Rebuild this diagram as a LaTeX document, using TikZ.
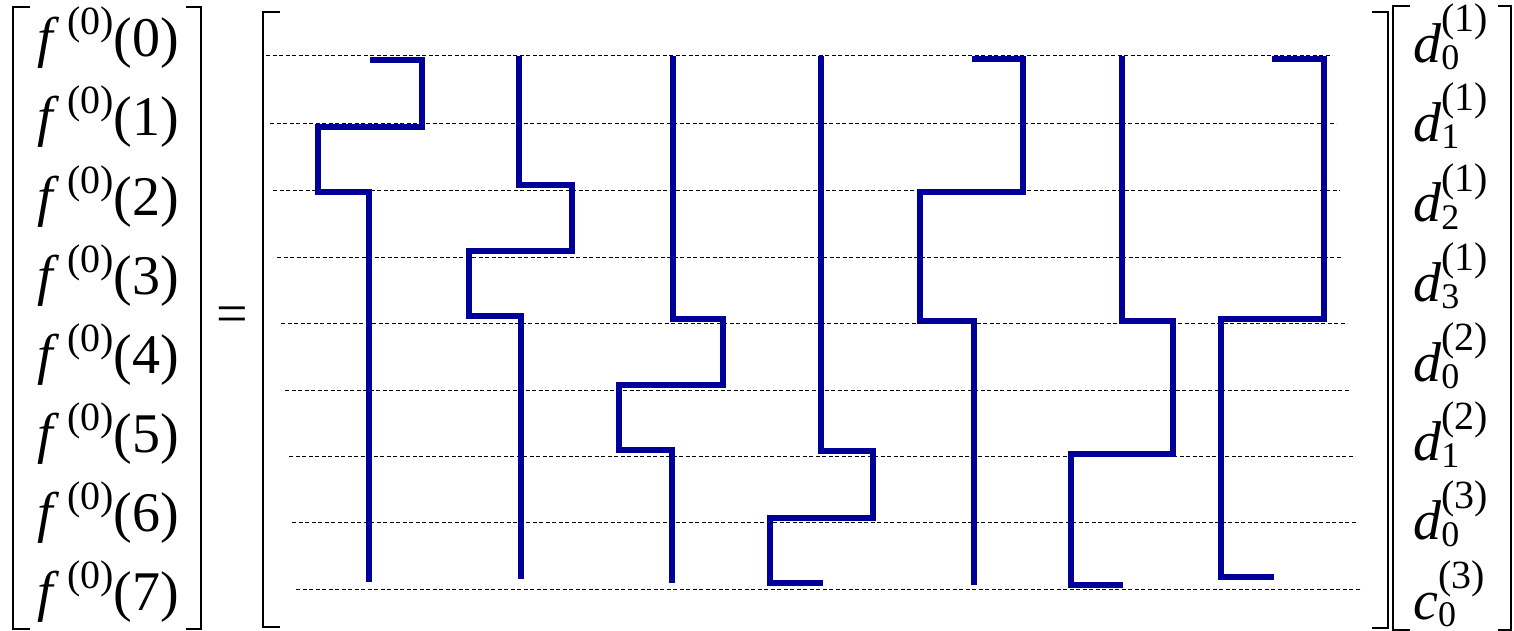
\documentclass[tikz,border=0pt]{standalone}
\usepackage{fontspec}
\setmainfont{Liberation Serif}

\definecolor{haarblue}{RGB}{0,0,153}
\newcommand{\supsz}{\fontsize{40}{44}\selectfont}
\newcommand{\subsz}{\fontsize{36}{40}\selectfont}
\newcommand{\fval}[1]{\textit{f}\kern8pt\raisebox{22pt}{\supsz(0)}(#1)}
\newcommand{\coef}[3]{\textit{#1}\rlap{\raisebox{-7pt}{\subsz #2}}\raisebox{31pt}{\supsz(#3)}}

\begin{document}
\begin{tikzpicture}[x=1pt, y=-1pt,
  entry/.style={font=\fontsize{56}{60}\selectfont, inner sep=0pt},
  gridline/.style={line width=1pt, dash pattern=on 4pt off 2.5pt},
  bracket/.style={line width=2.5pt, line join=miter},
  haar/.style={haarblue, line width=6.5pt, line join=miter}]

\useasboundingbox (0,0) rectangle (1514,631);

% left vector
\draw[bracket] (30,7) -- (13,7) -- (13,629) -- (30,629);
\draw[bracket] (186,7) -- (201,7) -- (201,629) -- (186,629);

\node[entry, anchor=base west] (f0) at (37,57) {\fval{0}};
\node[entry, anchor=base west] (f1) at (37,136) {\fval{1}};
\node[entry, anchor=base west] (f2) at (37,215) {\fval{2}};
\node[entry, anchor=base west] (f3) at (37,294) {\fval{3}};
\node[entry, anchor=base west] (f4) at (37,373) {\fval{4}};
\node[entry, anchor=base west] (f5) at (37,452) {\fval{5}};
\node[entry, anchor=base west] (f6) at (37,531) {\fval{6}};
\node[entry, anchor=base west] (f7) at (37,610) {\fval{7}};

\node[entry] (eq) at (232,320) {=};

% matrix
\draw[bracket] (280,12) -- (263,12) -- (263,627) -- (280,627);
\draw[bracket] (1372,12) -- (1388,12) -- (1388,628) -- (1372,628);

\draw[gridline] (266,56) -- (1332,56);
\draw[gridline] (270,124) -- (1336,124);
\draw[gridline] (273,190.5) -- (1340,190.5);
\draw[gridline] (277,257) -- (1343,257);
\draw[gridline] (281,323.5) -- (1347,323.5);
\draw[gridline] (285,390) -- (1351,390);
\draw[gridline] (289,456) -- (1355,456);
\draw[gridline] (292,522.5) -- (1358,522.5);
\draw[gridline] (296,589) -- (1362,589);

\draw[haar] (370,60) -- (422,60) -- (422,127) -- (318,127) -- (318,192) -- (369,192) -- (369,582);
\draw[haar] (519,56) -- (519,185) -- (572,185) -- (572,251) -- (469,251) -- (469,316) -- (521,316) -- (521,579);
\draw[haar] (673,56) -- (673,319) -- (723,319) -- (723,385) -- (619,385) -- (619,450) -- (672,450) -- (672,583);
\draw[haar] (821,56) -- (821,451) -- (873,451) -- (873,518) -- (770,518) -- (770,583) -- (823,583);
\draw[haar] (972,59) -- (1023,59) -- (1023,192) -- (920,192) -- (920,321) -- (974,321) -- (974,585);
\draw[haar] (1122,56) -- (1122,321) -- (1173,321) -- (1173,454) -- (1071,454) -- (1071,585) -- (1123,585);
\draw[haar] (1272,59) -- (1324,59) -- (1324,319) -- (1221,319) -- (1221,577) -- (1274,577);

% right vector
\draw[bracket] (1410,6) -- (1393,6) -- (1393,630) -- (1410,630);
\draw[bracket] (1498,6) -- (1511,6) -- (1511,630) -- (1498,630);

\node[entry, anchor=base west] (d01) at (1413,63) {\coef{d}{0}{1}};
\node[entry, anchor=base west] (d11) at (1413,142) {\coef{d}{1}{1}};
\node[entry, anchor=base west] (d21) at (1413,222) {\coef{d}{2}{1}};
\node[entry, anchor=base west] (d31) at (1413,301) {\coef{d}{3}{1}};
\node[entry, anchor=base west] (d02) at (1413,381) {\coef{d}{0}{2}};
\node[entry, anchor=base west] (d12) at (1413,460) {\coef{d}{1}{2}};
\node[entry, anchor=base west] (d03) at (1413,539) {\coef{d}{0}{3}};
\node[entry, anchor=base west] (c03) at (1413,619) {\coef{c}{0}{3}};

\end{tikzpicture}
\end{document}
